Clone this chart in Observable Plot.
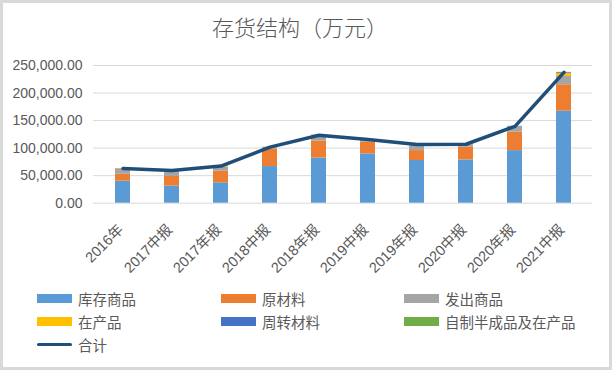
<!DOCTYPE html>
<html>
<head>
<meta charset="utf-8">
<script src="https://cdn.jsdelivr.net/npm/d3@7"></script>
<script src="https://cdn.jsdelivr.net/npm/@observablehq/plot@0.6"></script>
<style>
  html, body { margin: 0; padding: 0; background: #fff; }
  #frame { position: relative; width: 612px; height: 370px; overflow: hidden; font-family: "Liberation Sans", "Noto Sans CJK SC", sans-serif; }
  #border { position: absolute; left: 0; top: 0; width: 612px; height: 370px; box-sizing: border-box; border: 3px solid #d9d9d9; pointer-events: none; }
  #title { position: absolute; left: 0; top: 10px; width: 600px; text-align: center; font-family: "Noto Sans CJK SC", sans-serif; font-size: 22px; line-height: 32px; font-weight: 300; color: #595959; }
  #chart { position: absolute; left: 0; top: 39px; }
  #legend { position: absolute; left: 0; top: 0; width: 100%; height: 100%; pointer-events: none; font-family: "Noto Sans CJK SC", sans-serif; font-size: 14.5px; color: #595959; }
  .item { position: absolute; display: flex; align-items: center; height: 20px; }
  .sw { width: 35px; height: 9px; margin-right: 6px; }
  .ln { width: 35px; height: 3px; margin-right: 6px; border-radius: 1.5px; }
</style>
</head>
<body>
<div id="frame">
  <div id="title">存货结构（万元）</div>
  <div id="chart"></div>
  <div id="legend"></div>
  <div id="border"></div>
</div>
<script>
const categories = ["2016年", "2017中报", "2017年报", "2018中报", "2018年报", "2019中报", "2019年报", "2020中报", "2020年报", "2021中报"];
const seriesNames = ["库存商品", "原材料", "发出商品", "在产品", "周转材料", "自制半成品及在产品"];
const seriesColors = ["#5b9bd5", "#ed7d31", "#a5a5a5", "#ffc000", "#4472c4", "#70ad47"];
const 库存商品 = [40000, 31000, 37000, 66500, 82000, 89500, 77500, 78500, 95500, 167000];
const 原材料 = [12500, 17500, 21000, 32000, 31000, 21000, 18000, 23000, 33500, 48000];
const 发出商品 = [9000, 9500, 7500, 2500, 8000, 3000, 9000, 4500, 10000, 15000];
const 在产品 = [1000, 1000, 1500, 500, 2000, 1500, 1500, 500, 0, 6000];
const 周转材料 = [500, 500, 500, 300, 500, 500, 500, 500, 500, 1500];
const 自制半成品及在产品 = [0, 0, 0, 0, 0, 0, 0, 0, 0, 0];
const 合计 = [63000, 59500, 67500, 101800, 123500, 115500, 106500, 107000, 139500, 237500];
const yTicks = [0, 50000, 100000, 150000, 200000, 250000];
const totalName = "合计";
const lineColor = "#1f4e79";

const seriesValues = [库存商品, 原材料, 发出商品, 在产品, 周转材料, 自制半成品及在产品];
const rows = [];
seriesNames.forEach((s, i) => {
  categories.forEach((c, j) => rows.push({ category: c, series: s, value: seriesValues[i][j] }));
});
const totals = categories.map((c, j) => ({ category: c, value: 合计[j] }));

const chart = Plot.plot({
  width: 612,
  height: 248,
  marginLeft: 93,
  marginRight: 20,
  marginTop: 26,
  marginBottom: 84.3,
  style: { fontFamily: "Liberation Sans, Noto Sans CJK SC, sans-serif", fontSize: "14px", color: "#595959", background: "transparent" },
  x: { domain: categories, paddingInner: 0.7, paddingOuter: 0.35, label: null },
  y: { domain: [0, 250000], label: null },
  color: { domain: seriesNames, range: seriesColors },
  marks: [
    Plot.ruleY(yTicks, { stroke: "#d9d9d9", strokeWidth: 1 }),
    Plot.barY(rows, { x: "category", y: "value", fill: "series", order: seriesNames }),
    Plot.line(totals, { x: "category", y: "value", stroke: lineColor, strokeWidth: 3.5, strokeLinejoin: "round", strokeLinecap: "round" }),
    Plot.axisY({ ticks: yTicks, tickFormat: d3.format(",.2f"), tickSize: 0, tickPadding: 11, label: null, fill: "#595959", fontSize: 14 }),
    Plot.axisX({ tickSize: 0, tickRotate: -45, tickPadding: 4, dx: -2, dy: 20, label: null, fill: "#595959", fontSize: 14.5, fontFamily: "Liberation Sans, Noto Sans CJK SC, sans-serif" })
  ]
});
document.getElementById("chart").appendChild(chart);

const legend = document.getElementById("legend");
const positions = [[37, 288], [221, 288], [404, 288], [37, 311], [221, 311], [404, 311]];
seriesNames.forEach((s, i) => {
  const d = document.createElement("div");
  d.className = "item";
  d.style.left = positions[i][0] + "px";
  d.style.top = positions[i][1] + "px";
  d.innerHTML = `<span class="sw" style="background:${seriesColors[i]}"></span><span>${s}</span>`;
  legend.appendChild(d);
});
const t = document.createElement("div");
t.className = "item";
t.style.left = "37px";
t.style.top = "334px";
t.innerHTML = `<span class="ln" style="background:${lineColor}"></span><span>${totalName}</span>`;
legend.appendChild(t);
</script>
</body>
</html>
